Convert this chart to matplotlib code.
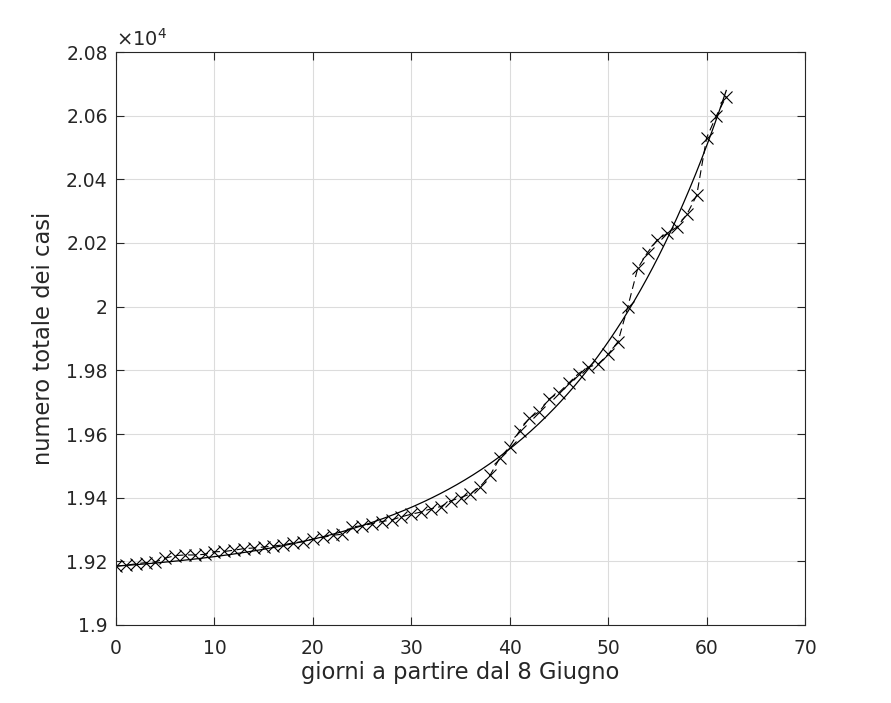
import numpy as np
import matplotlib
matplotlib.use("Agg")
import matplotlib.pyplot as plt

# ---- data ----
days = list(range(0, 63))
cases = [19185, 19188, 19192, 19196, 19198, 19210, 19218, 19220, 19220, 19222,
         19230, 19231, 19235, 19240, 19242, 19245, 19248, 19252, 19258, 19262,
         19270, 19275, 19282, 19285, 19308, 19312, 19318, 19325, 19330, 19340,
         19348, 19355, 19365, 19372, 19390, 19400, 19412, 19435, 19470, 19525,
         19560, 19610, 19650, 19670, 19710, 19730, 19760, 19790, 19810, 19820,
         19850, 19890, 20000, 20120, 20170, 20210, 20230, 20250, 20290, 20350,
         20530, 20600, 20660]

x_ticks = [0, 10, 20, 30, 40, 50, 60, 70]
y_ticks = [1.9, 1.92, 1.94, 1.96, 1.98, 2.0, 2.02, 2.04, 2.06, 2.08]
y_ticklabels = ["1.9", "1.92", "1.94", "1.96", "1.98", "2", "2.02", "2.04", "2.06", "2.08"]
x_label = "giorni a partire dal 8 Giugno"
y_label = "numero totale dei casi"

# ---- exponential fit y = a + b*exp(c*x), least squares from the data ----
xd = np.array(days, dtype=float)
yd = np.array(cases, dtype=float)
best = None
for c in np.linspace(0.01, 0.15, 1401):
    A = np.column_stack([np.ones_like(xd), np.exp(c * xd)])
    coef, *_ = np.linalg.lstsq(A, yd, rcond=None)
    r = np.sum((A @ coef - yd) ** 2)
    if best is None or r < best[0]:
        best = (r, c, coef)
_, c_fit, (a_fit, b_fit) = best
xf = np.linspace(xd.min(), xd.max(), 300)
yf = a_fit + b_fit * np.exp(c_fit * xf)

plt.rcParams['font.family'] = ['DejaVu Sans']
fig = plt.figure(figsize=(8.91, 7.03), dpi=100)
ax = fig.add_axes([116/891, 78/703, (805-116)/891, (625-52)/703])

ax.plot(xd, yd / 1e4, color='black', linestyle=(0, (7, 4)), linewidth=0.8,
        marker='x', markersize=8, markeredgewidth=0.8)
ax.plot(xf, yf / 1e4, color='black', linewidth=0.9)

ax.set_xlim(0, 70)
ax.set_ylim(1.9, 2.08)
ax.set_xticks(x_ticks)
ax.set_yticks(y_ticks)
ax.set_yticklabels(y_ticklabels)
ax.grid(True, color='#dcdcdc', linewidth=0.8)
ax.set_axisbelow(True)
ax.tick_params(direction='in', top=True, right=True, length=6, width=0.8,
               labelsize=13.5, colors='#262626')
ax.tick_params(axis='x', pad=10)
ax.tick_params(axis='y', pad=6)
for s in ax.spines.values():
    s.set_linewidth(0.8)
    s.set_color('#262626')

ax.set_xlabel(x_label, fontsize=16.3, color='#262626', labelpad=2)
ax.set_ylabel(y_label, fontsize=16.3, color='#262626', labelpad=8)
ax.text(0.0, 1.003, r'$\times$10$^4$', transform=ax.transAxes, fontsize=14,
        color='#262626', ha='left', va='bottom')

fig.savefig('out.png', dpi=100)
